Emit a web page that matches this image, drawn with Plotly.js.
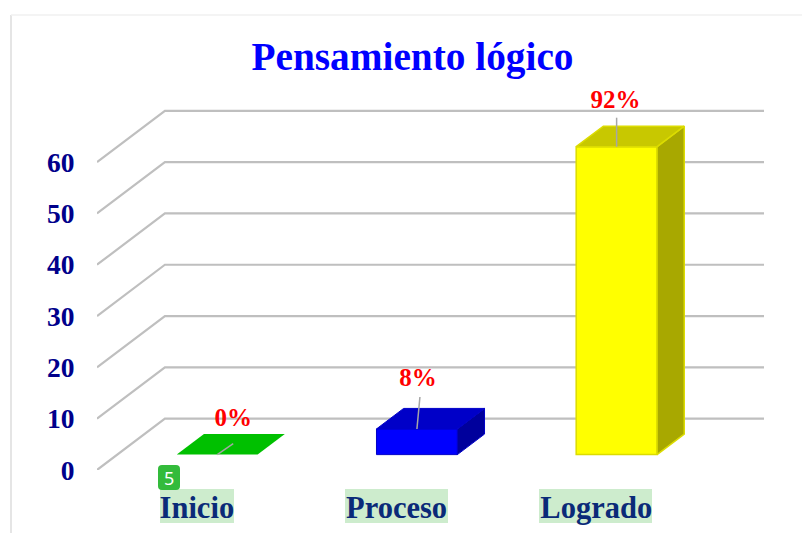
<!DOCTYPE html>
<html>
<head>
<meta charset="utf-8">
<script src="https://cdn.plot.ly/plotly-3.0.1.min.js"></script>
<style>html,body{margin:0;padding:0;background:#fff}#chart{width:802px;height:533px}</style>
</head>
<body>
<div id="chart"></div>
<script>
// Data
const titleText = 'Pensamiento lógico';
const categories = ['Inicio', 'Proceso', 'Logrado'];
const values = [0, 5, 60];
const percentLabels = ['0%', '8%', '92%'];
const yTicks = [0, 10, 20, 30, 40, 50, 60];
const badgeText = '5';

// Colours
const frontColors = ['#00c000', '#0000ff', '#ffff00'];
const topColors = ['#00c000', '#0000c8', '#c8c800'];
const sideColors = ['#00a000', '#00009c', '#a8a800'];
const edgeColors = ['#00c000', '#0000c8', '#dcdc00'];
const edgeWidths = [0, 1, 1.5];

// Page geometry (pixels)
const W = 802, H = 533;
const M = {l: 97, r: 38, t: 80, b: 63};
const yTop = 76;
const px = x => (x - M.l) / (W - M.l - M.r);
const py = y => 1 - (y - M.t) / (H - M.t - M.b);

// 3D projection (axis units)
const depthX = 0.34, depthY = 10;
const barWidth = 0.405, barFront = 0.3, barDepth = 0.4;
const xUnit = (W - M.l - M.r) / 3.34, yUnit = (H - M.t - M.b) / yTop;

// Leader / label offsets in pixels from the front-top-centre of each bar
const leaderDx = [16, 3, 0], leaderDy = [11, 32, 29];
const labelDx = [16, 1, -1], labelDy = [35, 49, 45];

const traces = [];
const bx = i => i + barFront * depthX;
const by = barFront * depthY;

// front faces
traces.push({
  type: 'bar', x: categories.map((c, i) => bx(i)), y: values, base: by,
  width: barWidth,
  marker: {color: frontColors, line: {color: edgeColors, width: edgeWidths}},
  hoverinfo: 'skip', showlegend: false
});

categories.forEach((c, i) => {
  const xl = bx(i) - barWidth / 2, xr = bx(i) + barWidth / 2;
  const b = by, t = by + values[i];
  const ox = barDepth * depthX, oy = barDepth * depthY;
  if (values[i] > 0) {
    traces.push({
      type: 'scatter', mode: 'lines', fill: 'toself', fillcolor: sideColors[i],
      x: [xr, xr, xr + ox, xr + ox, xr], y: [b, t, t + oy, b + oy, b],
      line: {color: edgeColors[i], width: edgeWidths[i]}, hoverinfo: 'skip', showlegend: false
    });
  }
  traces.push({
    type: 'scatter', mode: 'lines', fill: 'toself', fillcolor: topColors[i],
    x: [xl, xr, xr + ox, xl + ox, xl], y: [t, t, t + oy, t + oy, t],
    line: {color: edgeColors[i], width: edgeWidths[i]}, hoverinfo: 'skip', showlegend: false
  });
  // leader line
  traces.push({
    type: 'scatter', mode: 'lines',
    x: [bx(i), bx(i) + leaderDx[i] / xUnit], y: [t, t + leaderDy[i] / yUnit],
    line: {color: '#a6a6a6', width: 1.5}, hoverinfo: 'skip', showlegend: false
  });
});

// data labels
traces.push({
  type: 'scatter', mode: 'text',
  x: categories.map((c, i) => bx(i) + labelDx[i] / xUnit),
  y: values.map((v, i) => by + v + labelDy[i] / yUnit),
  text: percentLabels, textposition: 'middle center', cliponaxis: false,
  textfont: {family: '"Liberation Serif", serif', size: 25, color: '#ff0000', weight: 700},
  hoverinfo: 'skip', showlegend: false
});

// walls' gridlines
const shapes = [];
yTicks.forEach(v => {
  shapes.push({
    type: 'path', layer: 'below', xref: 'x', yref: 'y',
    path: `M -0.5 ${v} L ${-0.5 + depthX} ${v + depthY} L ${2.5 + depthX} ${v + depthY}`,
    line: {color: '#bfbfbf', width: 2.2}
  });
});

// label highlights
const hl = [[160, 234], [345, 448], [539, 652]];
hl.forEach(h => shapes.push({
  type: 'rect', layer: 'below', xref: 'paper', yref: 'paper',
  x0: px(h[0]), x1: px(h[1]), y0: py(523), y1: py(489),
  fillcolor: '#cdeccd', line: {width: 0}
}));

// frame
shapes.push({type: 'line', layer: 'below', xref: 'paper', yref: 'paper',
  x0: px(11), x1: px(11), y0: py(15), y1: py(533), line: {color: '#dcdcdc', width: 1.5}});
shapes.push({type: 'line', layer: 'below', xref: 'paper', yref: 'paper',
  x0: px(11), x1: px(802), y0: py(15), y1: py(15), line: {color: '#f0f0f0', width: 1.5}});

// badge
const bL = 158, bR = 180, bT = 465, bB = 490, r = 4;
shapes.push({
  type: 'path', layer: 'above', xref: 'paper', yref: 'paper',
  path: `M ${px(bL + r)} ${py(bT)} L ${px(bR - r)} ${py(bT)} Q ${px(bR)} ${py(bT)} ${px(bR)} ${py(bT + r)} ` +
        `L ${px(bR)} ${py(bB - r)} Q ${px(bR)} ${py(bB)} ${px(bR - r)} ${py(bB)} ` +
        `L ${px(bL + r)} ${py(bB)} Q ${px(bL)} ${py(bB)} ${px(bL)} ${py(bB - r)} ` +
        `L ${px(bL)} ${py(bT + r)} Q ${px(bL)} ${py(bT)} ${px(bL + r)} ${py(bT)} Z`,
  fillcolor: '#33bb3b', line: {width: 0}
});

const layout = {
  width: W, height: H, autosize: false,
  margin: M,
  paper_bgcolor: '#ffffff', plot_bgcolor: 'rgba(0,0,0,0)',
  showlegend: false,
  title: {
    text: titleText, x: 412.5 / W, xanchor: 'center',
    y: 1 - 56 / H, yanchor: 'middle',
    font: {family: '"Liberation Serif", serif', size: 39.3, color: '#0000ff', weight: 700}
  },
  xaxis: {
    range: [-0.5, 2.84], tickmode: 'array', tickvals: categories.map((c, i) => i), ticktext: categories,
    showgrid: false, zeroline: false, showline: false,
    ticks: 'outside', ticklen: 10, tickcolor: 'rgba(0,0,0,0)',
    tickfont: {family: '"Liberation Serif", serif', size: 30.5, color: '#0a2a78', weight: 700},
    fixedrange: true
  },
  yaxis: {
    range: [0, yTop], tickmode: 'array', tickvals: yTicks, ticktext: yTicks.map(String),
    showgrid: false, zeroline: false, showline: false,
    ticks: 'outside', ticklen: 16, tickcolor: 'rgba(0,0,0,0)',
    tickfont: {family: '"Liberation Serif", serif', size: 27.5, color: '#00008b', weight: 700},
    fixedrange: true
  },
  shapes: shapes,
  annotations: [{
    xref: 'paper', yref: 'paper', x: px((bL + bR) / 2), y: py((bT + bB) / 2),
    xanchor: 'center', yanchor: 'middle', showarrow: false, text: badgeText,
    font: {family: '"Noto Sans", sans-serif', size: 18, color: '#ffffff'}
  }]
};

Plotly.newPlot('chart', traces, layout, {displayModeBar: false, staticPlot: true});
</script>
</body>
</html>
